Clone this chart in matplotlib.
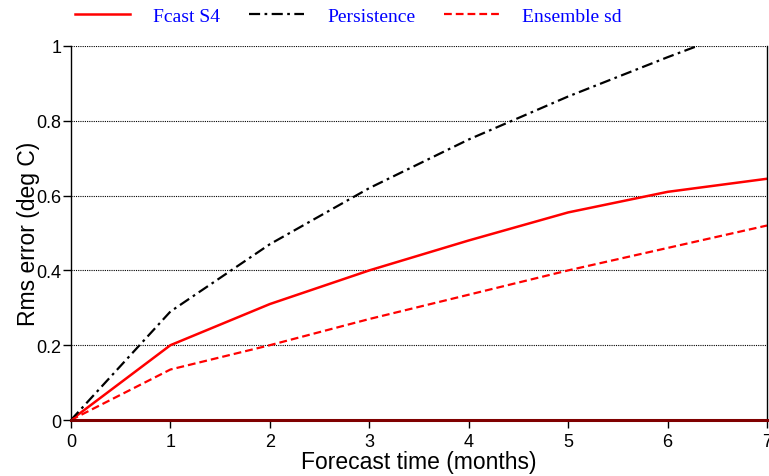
import matplotlib.pyplot as plt

months = [0, 1, 2, 3, 4, 5, 6, 7]
fcast_s4 = [0, 0.20, 0.31, 0.40, 0.48, 0.555, 0.61, 0.645]
persistence = [0, 0.29, 0.47, 0.62, 0.75, 0.865, 0.97, 1.07]
ensemble_sd = [0, 0.135, 0.20, 0.27, 0.335, 0.40, 0.46, 0.52]

sans = 'Liberation Sans'

fig = plt.figure(figsize=(7.69, 4.77), dpi=100)
ax = fig.add_axes([0.0923, 0.1174, 0.9051, 0.7841])

l1, = ax.plot(months, fcast_s4, color='#ff0000', lw=1.8, ls='-')
l2, = ax.plot(months, persistence, color='black', lw=1.6, ls=(0, (5, 2, 1.2, 2)))
l3, = ax.plot(months, ensemble_sd, color='#ff0000', lw=1.6, ls=(0, (3.5, 1.8)))
ax.axhline(0, color='#800000', lw=2.2, zorder=3, clip_on=False)

ax.set_xlim(0, 7)
ax.set_ylim(0, 1)
ax.set_xticks(range(8))
ax.set_yticks([0, 0.2, 0.4, 0.6, 0.8, 1])
ax.set_yticklabels(['0', '0.2', '0.4', '0.6', '0.8', '1'])
for y in [0.2, 0.4, 0.6, 0.8, 1.0]:
    ax.axhline(y, color='black', lw=0.8, ls=(0, (1, 1)), zorder=1)

ax.spines['top'].set_visible(False)
ax.spines['bottom'].set_visible(False)
ax.spines['left'].set_linewidth(1)
ax.spines['right'].set_linewidth(1)
ax.tick_params(direction='out', length=6, width=1, labelsize=13)
ax.tick_params(axis='y', pad=1)
ax.tick_params(axis='x', pad=3)
for lab in ax.get_xticklabels() + ax.get_yticklabels():
    lab.set_fontfamily(sans)

ax.set_xlabel('Forecast time (months)', fontsize=16.5, family=sans, labelpad=0)
ax.set_ylabel('Rms error (deg C)', fontsize=16.5, family=sans, labelpad=-3)

fig.legend([l1, l2, l3], ['Fcast S4', 'Persistence', 'Ensemble sd'],
           loc='upper left', bbox_to_anchor=(0.075, 1.02), ncol=3, frameon=False,
           handlelength=2.8, handletextpad=1.2, columnspacing=1.5,
           labelcolor='blue', prop={'family': 'Liberation Serif', 'size': 14})

fig.savefig('out.png')
